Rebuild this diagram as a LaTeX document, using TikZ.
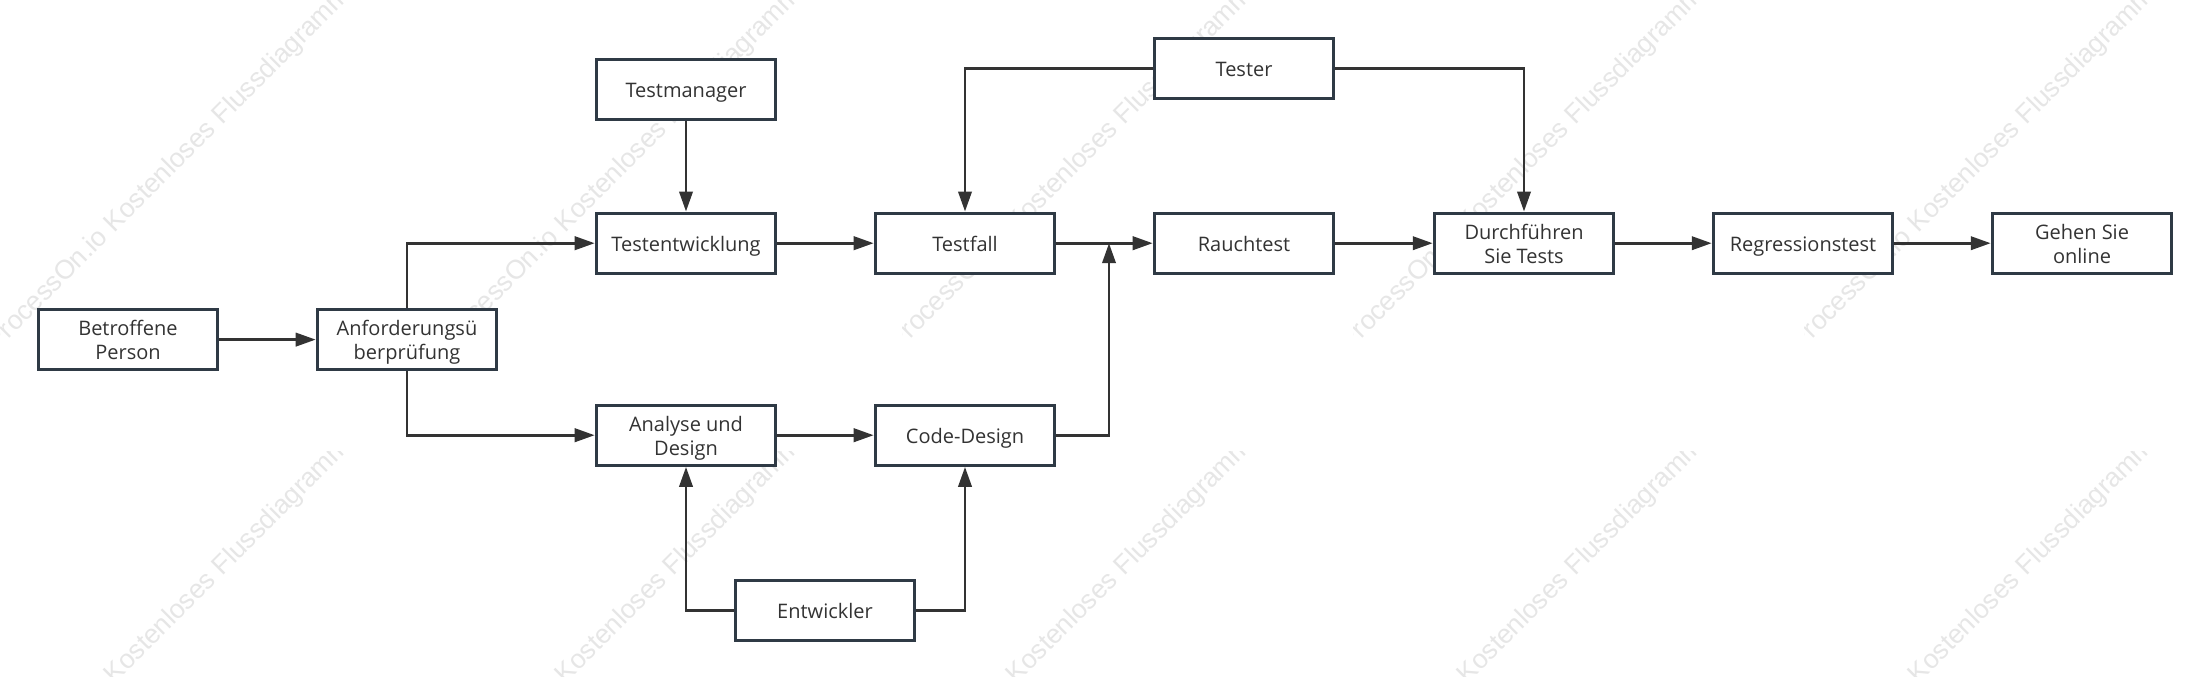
\documentclass[tikz,border=0pt]{standalone}
\usepackage{fontspec}
\setmainfont{Open Sans}
\newfontfamily\wmfont{Liberation Sans}
\usetikzlibrary{arrows.meta}
\definecolor{boxline}{HTML}{2F3A45}
\definecolor{conn}{HTML}{333333}
\definecolor{wm}{HTML}{E6E6E6}
\newcommand{\bxt}[1]{\rule{0pt}{16pt}#1\rule[-4pt]{0pt}{4pt}}
\tikzset{
  flowbox/.style={draw=boxline,fill=white,line width=2.3pt,minimum width=134.6pt,minimum height=45.2pt,inner sep=0pt,align=center,text=conn,font=\fontsize{15}{18}\selectfont},
  link/.style={draw=conn,line width=2.1pt,-{Triangle[length=15pt,width=10pt]}},
  wmark/.style={anchor=base west,rotate=45,text=wm,inner sep=0pt,font=\wmfont\fontsize{20}{24}\selectfont},
}
\begin{document}
\begin{tikzpicture}[x=0.75pt,y=-0.75pt]
\useasboundingbox (0,0) rectangle (2209,676);
\fill[white] (0,0) rectangle (2209,676);
\foreach \tx in {0,451,902,1353,1804}{
  \foreach \ty in {0,451}{
    \begin{scope}
      \clip (\tx,\ty) rectangle ++(345,451);
      \node[wmark] (wm-\tx-\ty) at (\tx-4,\ty+352) {ProcessOn.io Kostenloses Flussdiagramm};
    \end{scope}
  }
}
\node[flowbox] (betroffene) at (128,339.6) {\bxt{Betroffene\\Person}};
\node[flowbox] (anford) at (407,339.6) {\bxt{Anforderungsü\\berprüfung}};
\node[flowbox] (manager) at (686,89.6) {\bxt{Testmanager}};
\node[flowbox] (testent) at (686,243.2) {\bxt{Testentwicklung}};
\node[flowbox] (analyse) at (686,435.2) {\bxt{Analyse und\\Design}};
\node[flowbox] (testfall) at (965,243.2) {\bxt{Testfall}};
\node[flowbox] (code) at (965,435.2) {\bxt{Code-Design}};
\node[flowbox] (entw) at (825,610.2) {\bxt{Entwickler}};
\node[flowbox] (tester) at (1244,68.6) {\bxt{Tester}};
\node[flowbox] (rauch) at (1244,243.2) {\bxt{Rauchtest}};
\node[flowbox] (durch) at (1524,243.2) {\bxt{Durchführen\\Sie Tests}};
\node[flowbox] (regr) at (1803,243.2) {\bxt{Regressionstest}};
\node[flowbox] (gehen) at (2082,243.2) {\bxt{Gehen Sie\\online}};
\coordinate (junction) at (1109,243.2);
\draw[link] (betroffene) -- (anford);
\draw[link] (anford.north) |- (testent.west);
\draw[link] (anford.south) |- (analyse.west);
\draw[link] (manager) -- (testent);
\draw[link] (testent) -- (testfall);
\draw[link] (analyse) -- (code);
\draw[link] (testfall) -- (rauch);
\draw[link] (code.east) -| (junction);
\draw[link] (entw.west) -| (analyse.south);
\draw[link] (entw.east) -| (code.south);
\draw[link] (tester.west) -| (testfall.north);
\draw[link] (tester.east) -| (durch.north);
\draw[link] (rauch) -- (durch);
\draw[link] (durch) -- (regr);
\draw[link] (regr) -- (gehen);
\end{tikzpicture}
\end{document}
